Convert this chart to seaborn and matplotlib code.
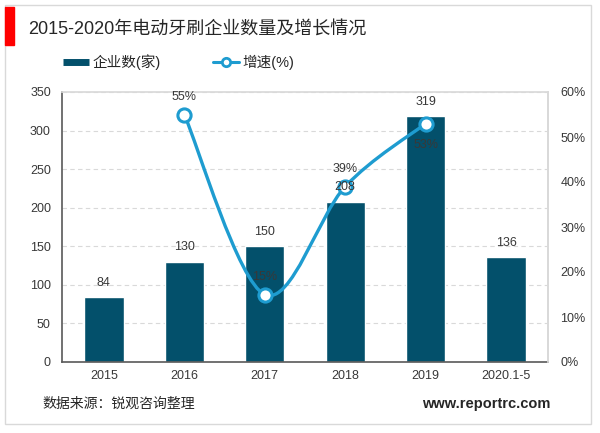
import numpy as np
import pandas as pd
import seaborn as sns
import matplotlib.pyplot as plt
from matplotlib.path import Path
from matplotlib.patches import PathPatch, Rectangle
from matplotlib.lines import Line2D
from matplotlib.ticker import FuncFormatter

years = ["2015", "2016", "2017", "2018", "2019", "2020.1-5"]
companies = [84, 130, 150, 208, 319, 136]
growth = [np.nan, 55, 15, 39, 53, np.nan]

bar_color = "#03506b"
line_color = "#1e9cd0"
text_color = "#383838"

sns.set_theme(style="white")
plt.rcParams["font.family"] = ["Liberation Sans", "Noto Sans CJK SC"]

df = pd.DataFrame({"year": years, "companies": companies, "growth": growth})

fig = plt.figure(figsize=(6, 4.33), dpi=100)
ax = fig.add_axes([62 / 600, 71 / 433, 486 / 600, 270 / 433])

sns.barplot(data=df, x="year", y="companies", color=bar_color, saturation=1,
            width=0.49, ax=ax, zorder=2)
ax.set_ylim(0, 350)
ax.set_yticks(range(0, 351, 50))
ax.set_xlabel("")
ax.set_ylabel("")
ax.yaxis.grid(True, ls=(0, (4, 3)), color="#d9d9d9", lw=0.8, zorder=0)
ax.set_axisbelow(True)
ax.tick_params(axis="both", length=0, labelsize=9, colors=text_color)
ax.tick_params(axis="y", pad=8)
ax.tick_params(axis="x", pad=6)
for s in ["left", "bottom"]:
    ax.spines[s].set_color("#595959")
    ax.spines[s].set_linewidth(1.2)
ax.spines["top"].set_color("#d9d9d9")
ax.spines["right"].set_color("#d9d9d9")

ax2 = ax.twinx()
ax2.set_ylim(0, 60)
ax2.set_yticks(range(0, 61, 10))
ax2.yaxis.set_major_formatter(FuncFormatter(lambda v, p: f"{v:.0f}%"))
ax2.tick_params(axis="y", length=0, labelsize=9, colors=text_color, pad=9)
for s in ["left", "bottom", "top"]:
    ax2.spines[s].set_visible(False)
ax2.spines["right"].set_color("#d9d9d9")

# smooth curve through the growth points (Catmull-Rom as cubic Bezier)
g = df.dropna(subset=["growth"])
px = np.array(g.index, dtype=float)
py = g["growth"].to_numpy(dtype=float)
pts = np.column_stack([px, py])
ext = np.vstack([pts[0], pts, pts[-1]])
verts = [tuple(pts[0])]
codes = [Path.MOVETO]
for k in range(len(pts) - 1):
    p0, p1, p2, p3 = ext[k], ext[k + 1], ext[k + 2], ext[k + 3]
    c1 = p1 + (p2 - p0) / 6
    c2 = p2 - (p3 - p1) / 6
    verts += [tuple(c1), tuple(c2), tuple(p2)]
    codes += [Path.CURVE4] * 3
ax2.add_patch(PathPatch(Path(verts, codes), fill=False, ec=line_color,
                        lw=2.4, zorder=3))

sns.scatterplot(data=g, x="year", y="growth", ax=ax2, s=90, color="white",
                edgecolor=line_color, linewidth=2.2, zorder=4, legend=False)
ax2.set_xlabel("")
ax2.set_ylabel("")

# labels drawn on the top axes so they sit above bars and line
for i, v in enumerate(companies):
    ax2.annotate(str(v), (i, v), xycoords=ax.transData, xytext=(0, 6),
                 textcoords="offset points", ha="center", va="bottom",
                 fontsize=9, color=text_color, zorder=6)

offsets = {1: 8, 2: 8, 3: 8, 4: -20}
for i, v in zip(g.index, g["growth"]):
    ax2.annotate(f"{v:.0f}%", (i, v), xytext=(0, offsets[i]),
                 textcoords="offset points", ha="center", va="bottom",
                 fontsize=9, color=text_color, zorder=6)

handles = [
    Line2D([], [], color=bar_color, lw=5, solid_capstyle="butt"),
    Line2D([], [], color=line_color, lw=2.2, marker="o", mfc="white",
           mec=line_color, ms=6, mew=2),
]
fig.legend(handles, ["企业数(家)", "增速(%)"], loc="center left",
           bbox_to_anchor=(50 / 600, 1 - 62 / 433), ncol=2, frameon=False,
           fontsize=10.5, handlelength=1.8, handletextpad=0.2,
           columnspacing=3.6, labelcolor="#262626")

fig.patches.append(Rectangle((5 / 600, 9 / 433), 586 / 600, 419 / 433,
                             transform=fig.transFigure, fill=False,
                             ec="#d9d9d9", lw=1))
fig.patches.append(Rectangle((5 / 600, 1 - 45 / 433), 9 / 600, 38 / 433,
                             transform=fig.transFigure, color="#ff0000"))

fig.text(28 / 600, 1 - 29 / 433, "2015-2020年电动牙刷企业数量及增长情况",
         fontsize=13, va="center", color="#262626")
fig.text(42 / 600, 1 - 404 / 433, "数据来源：锐观咨询整理",
         fontsize=10, va="center", color="#262626")
fig.text(550 / 600, 1 - 404 / 433, "www.reportrc.com", fontsize=10.5,
         fontweight="bold", ha="right", va="center", color="#262626")

fig.savefig("out.png", dpi=100)
